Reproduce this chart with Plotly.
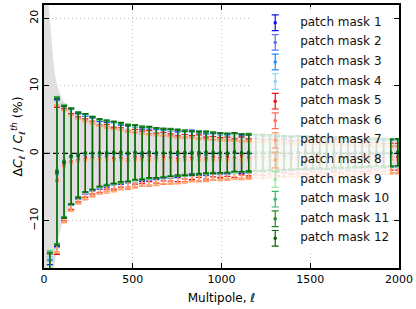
import plotly.graph_objects as go

# multipole bin centres
ell = [33, 73, 113, 153, 193, 233, 273, 313, 353, 393,
       433, 473, 513, 553, 593, 633, 673, 713, 753, 793,
       833, 873, 913, 953, 993, 1033, 1073, 1113, 1153, 1193,
       1233, 1273, 1313, 1353, 1393, 1433, 1473, 1513, 1553, 1593,
       1633, 1673, 1713, 1753, 1793, 1833, 1873, 1913, 1953, 1993]

# 1-sigma error per bin (%)
err = [17.3, 10.9, 8.3, 7.1, 6.3, 5.8, 5.4, 5.0, 4.8, 4.6,
       4.4, 4.2, 4.05, 3.9, 3.8, 3.7, 3.6, 3.5, 3.4, 3.3,
       3.25, 3.15, 3.1, 3.0, 2.95, 2.9, 2.85, 2.8, 2.75, 2.7,
       2.65, 2.6, 2.55, 2.5, 2.45, 2.45, 2.4, 2.35, 2.3, 2.3,
       2.25, 2.2, 2.2, 2.15, 2.1, 2.1, 2.05, 2.05, 2.0, 2.0]

mask1 = [-33.8, -2.9, -1.3, -0.5, -0.4, -0.3, -0.1, -0.3, -0.2, 0.1,
         -0.2, 0.0, -0.1, -0.3, 0.0, -0.2, 0.1, -0.1, -0.2, 0.0,
         0.2, -0.1, -0.2, 0.1, 0.0, -0.1, 0.1, -0.2, 0.0, 0.1,
         -0.1, 0.0, -0.2, 0.1, 0.0, -0.1, 0.0, 0.1, -0.1, 0.0,
         -0.2, 0.1, 0.0, -0.1, 0.1, 0.0, -0.1, 0.0, 0.1, 0.0]
mask2 = [-33.2, -3.1, -1.4, -0.6, -0.3, -0.2, -0.2, -0.1, 0.0, -0.1,
         0.1, -0.2, 0.0, -0.1, -0.2, 0.1, 0.0, -0.2, 0.0, 0.1,
         -0.1, 0.0, 0.1, -0.1, -0.2, 0.0, 0.1, 0.0, -0.1, 0.0,
         0.1, -0.1, 0.0, 0.0, -0.1, 0.1, -0.1, 0.0, 0.1, -0.1,
         0.0, -0.1, 0.1, 0.0, -0.1, 0.0, 0.1, -0.1, 0.0, 0.1]
mask3 = [-33.0, -2.7, -1.2, -0.4, -0.5, -0.1, 0.0, -0.2, -0.1, 0.0,
         -0.1, 0.1, -0.2, 0.0, 0.1, -0.1, -0.2, 0.0, 0.1, -0.1,
         0.0, 0.1, -0.1, 0.0, 0.1, -0.2, 0.0, 0.1, -0.1, 0.0,
         -0.1, 0.1, 0.0, -0.1, 0.1, 0.0, -0.1, 0.1, 0.0, -0.1,
         0.1, 0.0, -0.1, 0.1, 0.0, -0.1, 0.0, 0.1, -0.1, 0.0]
mask4 = [-32.6, -2.6, -1.1, -0.5, -0.2, -0.2, 0.1, -0.1, 0.0, -0.2,
         0.0, 0.1, -0.1, 0.0, -0.1, 0.1, 0.0, -0.1, 0.1, 0.0,
         -0.1, 0.1, 0.0, -0.1, 0.0, 0.1, -0.1, 0.0, 0.1, -0.1,
         0.0, 0.1, -0.1, 0.0, 0.1, -0.1, 0.0, 0.0, 0.1, -0.1,
         0.0, 0.1, 0.0, -0.1, 0.0, 0.1, -0.1, 0.0, 0.0, 0.1]
mask5 = [-34.4, -4.1, -1.7, -1.2, -0.9, -0.7, -0.6, -0.8, -0.5, -0.7,
         -0.6, -1.1, -0.5, -0.6, -0.4, -0.7, -0.5, -0.6, -0.8, -0.5,
         -0.6, -0.4, -0.7, -0.5, -0.6, -0.5, -0.7, -0.4, -0.6, -0.5,
         -0.6, -0.5, -0.7, -0.4, -0.6, -0.5, -0.6, -0.4, -0.5, -0.6,
         -0.5, -0.6, -0.4, -0.5, -0.6, -0.5, -0.4, -0.6, -0.5, -0.5]
mask6 = [-35.0, -3.9, -1.8, -1.3, -1.1, -1.0, -0.9, -1.0, -0.8, -0.9,
         -1.0, -0.8, -0.9, -1.0, -0.9, -0.8, -1.0, -0.9, -1.1, -0.9,
         -0.8, -1.0, -0.9, -1.0, -0.8, -0.9, -1.0, -0.9, -0.8, -1.0,
         -0.9, -1.0, -0.8, -0.9, -1.0, -0.9, -0.8, -1.0, -0.9, -0.9,
         -1.0, -0.8, -0.9, -1.0, -0.9, -0.8, -0.9, -1.0, -0.9, -0.9]
mask7 = [-35.4, -3.7, -1.9, -1.4, -1.2, -1.1, -1.0, -0.9, -1.1, -1.0,
         -0.9, -1.1, -1.0, -0.9, -1.1, -1.0, -0.9, -1.1, -1.0, -1.1,
         -1.0, -0.9, -1.1, -1.0, -1.1, -0.9, -1.0, -1.1, -1.0, -0.9,
         -1.1, -1.0, -0.9, -1.1, -1.0, -1.1, -1.0, -0.9, -1.0, -1.1,
         -1.0, -0.9, -1.1, -1.0, -0.9, -1.0, -1.1, -1.0, -0.9, -1.0]
mask8 = [-35.8, -3.8, -2.0, -1.5, -1.2, -1.0, -1.1, -1.0, -0.9, -1.1,
         -1.0, -0.9, -1.1, -1.0, -1.0, -1.1, -0.9, -1.0, -1.1, -1.0,
         -0.9, -1.1, -1.0, -0.9, -1.0, -1.1, -1.0, -0.9, -1.1, -1.0,
         -1.0, -0.9, -1.1, -1.0, -0.9, -1.0, -1.1, -1.0, -0.9, -1.0,
         -1.1, -1.0, -0.9, -1.0, -1.1, -1.0, -0.9, -1.0, -1.1, -1.0]
mask9 = [-31.6, -2.4, -1.0, -0.3, -0.2, 0.0, 0.1, -0.1, 0.0, 0.1,
         0.0, 0.2, -0.1, 0.1, 0.0, 0.1, 0.2, 0.0, 0.1, -0.1,
         0.1, 0.0, 0.2, 0.1, 0.0, 0.1, -0.1, 0.1, 0.0, 0.2,
         0.0, 0.1, 0.1, 0.0, 0.2, 0.0, 0.1, -0.1, 0.1, 0.0,
         0.1, 0.0, 0.2, 0.1, 0.0, 0.1, 0.0, 0.1, 0.2, 0.0]
mask10 = [-31.8, -2.5, -1.1, -0.4, -0.1, 0.1, 0.0, 0.1, 0.2, 0.0,
          0.1, 0.0, 0.1, 0.2, 0.0, 0.1, 0.0, 0.2, 0.1, 0.0,
          0.1, 0.2, 0.0, 0.1, 0.1, 0.0, 0.2, 0.1, 0.0, 0.1,
          0.2, 0.0, 0.1, 0.1, 0.0, 0.2, 0.1, 0.0, 0.1, 0.1,
          0.0, 0.2, 0.1, 0.0, 0.1, 0.1, 0.2, 0.0, 0.1, 0.1]
mask11 = [-32.0, -2.6, -1.2, -0.5, -0.2, 0.0, 0.1, 0.0, 0.1, 0.2,
          0.0, 0.1, 0.2, 0.0, 0.1, 0.0, 0.1, 0.1, 0.0, 0.2,
          0.1, 0.0, 0.1, 0.2, 0.0, 0.1, 0.1, 0.0, 0.2, 0.1,
          0.0, 0.1, 0.2, 0.0, 0.1, 0.1, 0.0, 0.2, 0.1, 0.0,
          0.1, 0.1, 0.0, 0.2, 0.1, 0.0, 0.1, 0.2, 0.0, 0.1]
mask12 = [-32.2, -2.8, -1.3, -0.4, -0.3, 0.1, 0.0, 0.1, 0.0, 0.1,
          0.2, 0.0, 0.1, 0.0, 0.2, 0.1, 0.0, 0.1, 0.2, 0.0,
          0.0, 0.1, 0.2, 0.0, 0.1, 0.0, 0.2, 0.1, 0.0, 0.1,
          0.1, 0.2, 0.0, 0.1, 0.0, 0.1, 0.2, 0.0, 0.1, 0.0,
          0.2, 0.0, 0.1, 0.1, 0.0, 0.2, 0.1, 0.0, 0.1, 0.2]

series = [mask1, mask2, mask3, mask4, mask5, mask6,
          mask7, mask8, mask9, mask10, mask11, mask12]
names = ["patch mask %d" % (i + 1) for i in range(12)]
colors = ["#1010e8", "#5a78e6", "#2090f5", "#90d0f5",
          "#f01010", "#ff6a50", "#ff9a78", "#ffa868",
          "#98ec98", "#3cb371", "#228b22", "#0a640a"]

# shaded cosmic-variance-like band (%)
band_ell = [0, 10, 20, 30, 40, 50, 62, 80, 100, 125, 150, 200, 260,
            350, 450, 550, 700, 850, 1000, 1250, 1500, 1750, 2000]
band_hi = [60, 32, 24, 20.5, 17, 14.5, 11.5, 9.5, 8.2, 7.0, 6.2, 5.4, 4.8,
           4.2, 3.8, 3.5, 3.1, 2.8, 2.6, 2.35, 2.15, 2.0, 1.85]
band_lo = [-60, -35, -28, -24, -21, -18.5, -16, -13, -10.5, -9.0, -7.8, -6.3, -5.3,
           -4.8, -4.4, -4.1, -3.7, -3.4, -3.2, -2.9, -2.7, -2.5, -2.3]

x_range = [0, 2000]
y_range = [-17, 22]

FONT = "DejaVu Sans"

fig = go.Figure()

# grey band
fig.add_trace(go.Scatter(x=band_ell, y=band_hi, mode="lines",
                         line=dict(width=0), hoverinfo="skip", showlegend=False))
fig.add_trace(go.Scatter(x=band_ell, y=band_lo, mode="lines", fill="tonexty",
                         fillcolor="rgb(224,224,224)", line=dict(width=0),
                         hoverinfo="skip", showlegend=False))

# zero line
fig.add_trace(go.Scatter(x=x_range, y=[0, 0], mode="lines",
                         line=dict(color="black", width=1.3, dash="6px,3px"),
                         hoverinfo="skip", showlegend=False))

for vals, col, name in zip(series, colors, names):
    fig.add_trace(go.Scatter(
        x=ell, y=vals, mode="markers", name=name,
        marker=dict(color=col, size=3.5),
        error_y=dict(type="data", array=err, color=col, thickness=1.2, width=3),
        showlegend=False,
    ))

# hand-made legend on its own axes so that it shows error-bar symbols
leg_x0, leg_x1 = 0.585, 0.975
leg_y0, leg_y1 = 0.068, 0.992
leg_rows = list(range(1, 13))

fig.add_trace(go.Scatter(
    x=[0, 1, 1, 0, 0], y=[0.2, 0.2, 12.6, 12.6, 0.2],
    mode="lines", fill="toself", fillcolor="rgba(255,255,255,0.8)",
    line=dict(width=0), hoverinfo="skip", showlegend=False,
    xaxis="x2", yaxis="y2"))

for row, col in zip(leg_rows, colors):
    fig.add_trace(go.Scatter(
        x=[0.17], y=[row], mode="markers",
        marker=dict(color=col, size=3.5),
        error_y=dict(type="data", array=[0.4], color=col, thickness=1.2, width=3.5),
        hoverinfo="skip", showlegend=False, xaxis="x2", yaxis="y2"))

fig.add_trace(go.Scatter(
    x=[0.35] * 12, y=leg_rows, mode="text", text=names,
    textposition="middle right",
    textfont=dict(family=FONT, size=12, color="#111111"),
    hoverinfo="skip", showlegend=False, xaxis="x2", yaxis="y2"))

axis_common = dict(
    showline=True, linecolor="black", linewidth=1.5, mirror="ticks",
    ticks="inside", ticklen=5, tickwidth=1, tickcolor="black",
    showgrid=True, gridcolor="#c0c0c0", griddash="1px,3px", gridwidth=1,
    zeroline=False, tickfont=dict(family=FONT, size=11, color="black"),
)

fig.update_layout(
    width=416, height=309,
    margin=dict(l=44, r=15, t=3, b=41),
    paper_bgcolor="white",
    plot_bgcolor="rgba(0,0,0,0)",
    font=dict(family=FONT, size=11, color="black"),
    showlegend=False,
    xaxis=dict(range=x_range, tickvals=[0, 500, 1000, 1500, 2000],
               title=dict(text="Multipole, <i>ℓ</i>", standoff=9,
                          font=dict(family=FONT, size=12)),
               **axis_common),
    yaxis=dict(range=y_range, tickvals=[-10, 0, 10, 20], tickangle=-90,
               title=dict(text="Δ<i>C</i><sub><i>ℓ</i></sub> / <i>C</i><sub><i>ℓ</i></sub><sup><i>th</i></sup> (%)",
                          standoff=2, font=dict(family=FONT, size=12.5)),
               **axis_common),
    xaxis2=dict(domain=[leg_x0, leg_x1], range=[0, 1], visible=False,
                anchor="y2", fixedrange=True),
    yaxis2=dict(domain=[leg_y0, leg_y1], range=[12.6, 0.2], visible=False,
                anchor="x2", fixedrange=True),
)

fig.write_html("out.html", config={"displayModeBar": False},
               post_script="document.body.style.margin='0';")
